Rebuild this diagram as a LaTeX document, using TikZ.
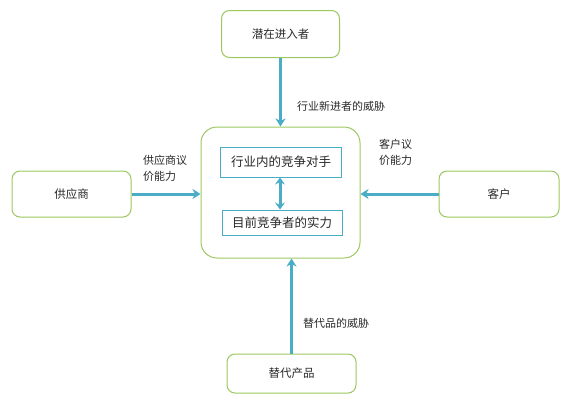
\documentclass[tikz,border=0pt]{standalone}
\usepackage{fontspec}
\newfontfamily\cjk{Noto Sans CJK SC}
\usetikzlibrary{arrows.meta}
\definecolor{gborder}{RGB}{155,200,95}
\definecolor{arrowc}{RGB}{75,172,198}
\definecolor{txt}{RGB}{40,40,40}
\tikzset{
  outerbox/.style={draw=gborder,line width=1pt,rounded corners=8pt,fill=white,text=txt,font=\cjk\fontsize{11.5}{14}\selectfont},
  innerbox/.style={draw=arrowc,line width=1pt,fill=white,text=txt,font=\cjk\fontsize{12.5}{15}\selectfont},
  bigbox/.style={draw=gborder,line width=1pt,rounded corners=16pt},
  conn/.style={draw=arrowc,line width=3pt,-{Stealth[length=8pt,width=10pt,inset=2.5pt]}},
  dconn/.style={draw=arrowc,line width=3pt,{Stealth[length=7pt,width=10pt,inset=2.5pt]}-{Stealth[length=7pt,width=10pt,inset=2.5pt]}},
  lbl/.style={text=txt,font=\cjk\fontsize{11}{16}\selectfont,align=left,inner sep=0pt}
}
\begin{document}
\begin{tikzpicture}[x=1pt,y=-1pt]
\useasboundingbox (0,0) rectangle (569,402);
% outer nodes
\node[outerbox,minimum width=118pt,minimum height=47pt] (top) at (280.5,34) {潜在进入者};
\node[outerbox,minimum width=119pt,minimum height=46pt] (left) at (71.5,194) {供应商};
\node[outerbox,minimum width=120pt,minimum height=46pt] (right) at (499,194) {客户};
\node[outerbox,minimum width=129pt,minimum height=39pt] (bottom) at (291.5,373.5) {替代产品};
% big box
\node[bigbox,minimum width=159pt,minimum height=131pt] (big) at (280.5,192.5) {};
% inner boxes
\node[innerbox,minimum width=121pt,minimum height=30pt] (in1) at (281,162) {行业内的竞争对手};
\node[innerbox,minimum width=120pt,minimum height=25pt] (in2) at (282,222.5) {目前竞争者的实力};
% connectors
\draw[conn] (top.south) -- (top.south |- big.north);
\draw[conn] (left.east) -- (left.east -| big.west);
\draw[conn] (right.west) -- (right.west -| big.east);
\draw[conn] (bottom.north) -- (bottom.north |- big.south);
\draw[dconn] (in1.south -| 280,0) -- (in2.north -| 280,0);
% labels
\node[lbl,anchor=west] (ltop) at (297,106) {行业新进者的威胁};
\node[lbl,anchor=west] (lleft) at (143,168) {供应商议\\价能力};
\node[lbl,anchor=west] (lright) at (379,152) {客户议\\价能力};
\node[lbl,anchor=west] (lbottom) at (303,323) {替代品的威胁};
\end{tikzpicture}
\end{document}
